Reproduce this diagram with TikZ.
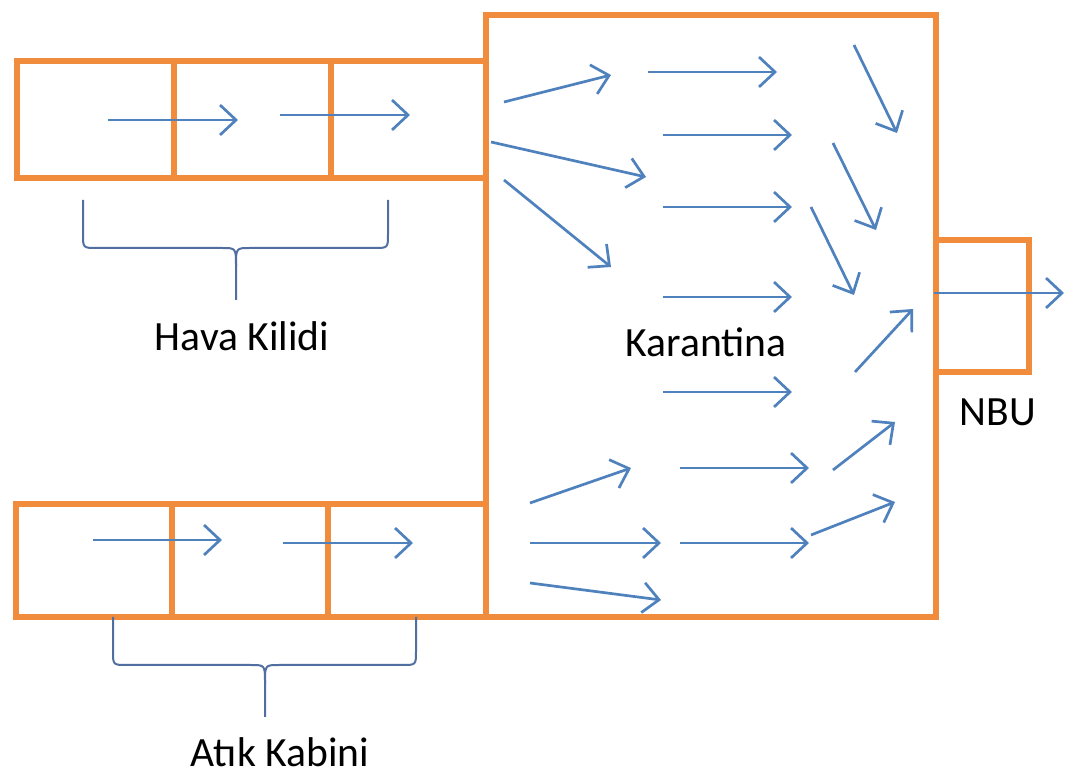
\documentclass[tikz,border=0pt]{standalone}
\usepackage{fontspec}
\setmainfont{Carlito}
\usetikzlibrary{arrows.meta}
\definecolor{wall}{RGB}{240,140,60}
\definecolor{flow}{RGB}{79,129,189}
\definecolor{brc}{RGB}{80,110,160}
\begin{document}
\begin{tikzpicture}[x=0.5pt,y=-0.5pt,
  wallline/.style={draw=wall,line width=3pt,line join=miter},
  fl/.style={draw=flow,line width=1.35pt,-{Straight Barb[length=8pt,width=15pt,line width=1.35pt]}},
  bracepath/.style={draw=brc,line width=1pt},
  lbl/.style={font=\fontsize{20.8}{24}\selectfont,text=black,inner sep=0pt}]
\useasboundingbox (0,0) rectangle (1066,774);
% walls
\draw[wallline] (486,15) rectangle (936,617);
\draw[wallline] (17,61) rectangle (486,178);
\draw[wallline] (174,61) -- (174,178);
\draw[wallline] (331,61) -- (331,178);
\draw[wallline] (16,504) rectangle (486,617);
\draw[wallline] (172,504) -- (172,617);
\draw[wallline] (328,504) -- (328,617);
\draw[wallline] (936,240) -- (1029,240) -- (1029,372) -- (936,372);
% airlock arrows
\draw[fl] (108,120) -- (238,120);
\draw[fl] (280,115) -- (410,115);
% waste arrows
\draw[fl] (93,540) -- (222,540);
\draw[fl] (283,543) -- (413,543);
% quarantine arrows
\draw[fl] (504,102) -- (611,75);
\draw[fl] (648,72) -- (777,72);
\draw[fl] (854,45) -- (897,133);
\draw[fl] (663,135) -- (792,135);
\draw[fl] (491,142) -- (646,177);
\draw[fl] (833,143) -- (876,230);
\draw[fl] (663,207) -- (792,207);
\draw[fl] (504,180) -- (611,267);
\draw[fl] (811,207) -- (854,295);
\draw[fl] (663,297) -- (792,297);
\draw[fl] (855,372) -- (913,309);
\draw[fl] (663,392) -- (792,392);
\draw[fl] (530,503) -- (631,468);
\draw[fl] (680,468) -- (809,468);
\draw[fl] (833,470) -- (895,422);
\draw[fl] (530,543) -- (661,543);
\draw[fl] (680,543) -- (809,543);
\draw[fl] (811,535) -- (895,502);
\draw[fl] (530,583) -- (661,600);
% NBU out arrow
\draw[fl] (934,293) -- (1064,293);
% braces
\draw[bracepath] (83,200) -- (83,234) .. controls (83,248) .. (97,248) -- (222,248) .. controls (236,248) .. (236,266) -- (236,300);
\draw[bracepath] (388,200) -- (388,234) .. controls (388,248) .. (374,248) -- (250,248) .. controls (236,248) .. (236,266);
\draw[bracepath] (113,617) -- (113,651) .. controls (113,665) .. (127,665) -- (251,665) .. controls (265,665) .. (265,683) -- (265,717);
\draw[bracepath] (416,617) -- (416,651) .. controls (416,665) .. (402,665) -- (279,665) .. controls (265,665) .. (265,683);
% labels
\node[lbl] (hk) at (242,336) {Hava Kilidi};
\node[lbl] (ak) at (280,752) {Atık Kabini};
\node[lbl] (kr) at (706,342) {Karantina};
\node[lbl] (nbu) at (998,412) {NBU};
\end{tikzpicture}
\end{document}
